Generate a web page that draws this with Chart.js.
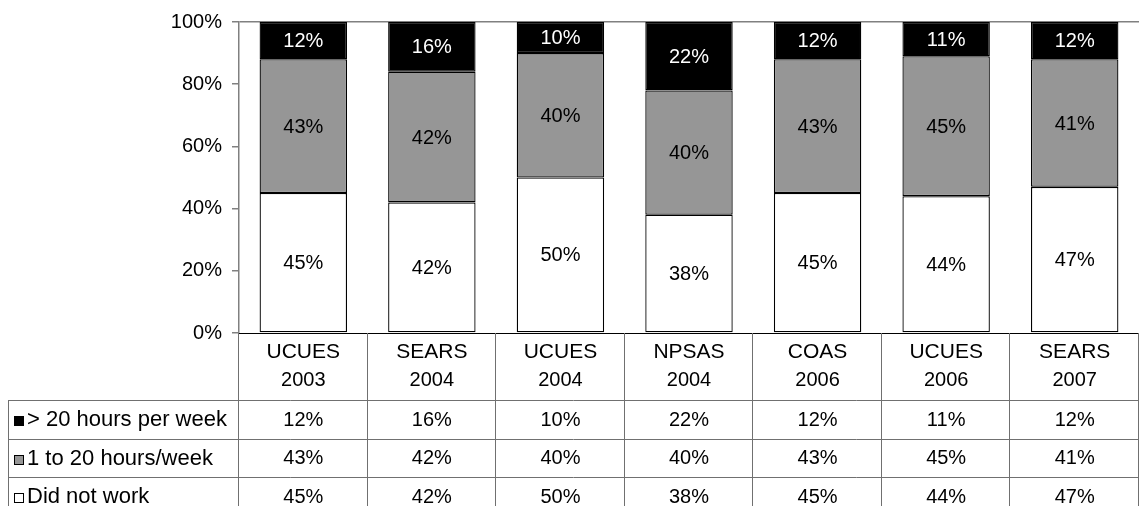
<!DOCTYPE html>
<html>
<head>
<meta charset="utf-8">
<script src="https://cdn.jsdelivr.net/npm/chart.js@4/dist/chart.umd.min.js"></script>
<style>
  body { margin: 0; background: #fff; }
  #wrap { width: 1139px; height: 506px; }
</style>
</head>
<body>
<div id="wrap"><canvas id="chart"></canvas></div>
<script>
// survey names and years (shown on two lines under each bar)
const surveys = ['UCUES', 'SEARS', 'UCUES', 'NPSAS', 'COAS', 'UCUES', 'SEARS'];
const years = ['2003', '2004', '2004', '2004', '2006', '2006', '2007'];

// percentages per series
const didNotWork = [45, 42, 50, 38, 45, 44, 47];
const oneTo20 = [43, 42, 40, 40, 43, 45, 41];
const over20 = [12, 16, 10, 22, 12, 11, 12];

const yTicks = [0, 20, 40, 60, 80, 100];

const FAMILY = '"Liberation Sans", Arial, sans-serif';
const FONT = '20px ' + FAMILY;
const LINE = '#707070';

// table rows, top to bottom (same order as the original data table)
const tableRows = [
  { name: '> 20 hours per week', values: over20, color: '#000000' },
  { name: '1 to 20 hours/week', values: oneTo20, color: '#969696' },
  { name: 'Did not work', values: didNotWork, color: '#ffffff' },
];

// labels in the middle of each bar segment
const segmentLabels = {
  id: 'segmentLabels',
  afterDatasetsDraw(chart) {
    const ctx = chart.ctx;
    ctx.save();
    ctx.font = FONT;
    ctx.textAlign = 'center';
    ctx.textBaseline = 'middle';
    chart.data.datasets.forEach((ds, di) => {
      chart.getDatasetMeta(di).data.forEach((bar, i) => {
        const mid = (bar.y + bar.base) / 2;
        ctx.fillStyle = ds.backgroundColor === '#000000' ? '#ffffff' : '#000000';
        ctx.fillText(ds.data[i] + '%', bar.x, mid + 1);
      });
    });
    ctx.restore();
  }
};

// data table under the plot
const dataTable = {
  id: 'dataTable',
  afterDraw(chart) {
    const ctx = chart.ctx;
    const area = chart.chartArea;
    const x = chart.scales.x;
    const n = surveys.length;
    const step = (area.right - area.left) / n;
    const headTop = area.bottom;
    const headBottom = 400;
    const rowH = 38.5;
    const tableLeft = 8;
    const bottom = chart.height;

    ctx.save();
    // x axis line
    ctx.strokeStyle = '#000';
    ctx.lineWidth = 1;
    ctx.beginPath();
    ctx.moveTo(area.left, headTop + 0.5);
    ctx.lineTo(area.right, headTop + 0.5);
    ctx.stroke();

    ctx.strokeStyle = LINE;
    ctx.beginPath();
    // column separators
    for (let i = 0; i <= n; i++) {
      const cx = Math.round(area.left + i * step) - 0.5;
      ctx.moveTo(cx, headTop);
      ctx.lineTo(cx, bottom);
    }
    // left border of legend column
    ctx.moveTo(tableLeft + 0.5, headBottom);
    ctx.lineTo(tableLeft + 0.5, bottom);
    // row lines
    for (let r = 0; r < tableRows.length; r++) {
      const ry = Math.round(headBottom + r * rowH) + 0.5;
      ctx.moveTo(tableLeft, ry);
      ctx.lineTo(area.right, ry);
    }
    ctx.stroke();

    ctx.fillStyle = '#000';
    ctx.textBaseline = 'middle';
    ctx.textAlign = 'center';
    // header
    for (let i = 0; i < n; i++) {
      const cx = x.getPixelForValue(i);
      ctx.font = '21px ' + FAMILY;
      ctx.fillText(surveys[i], cx, 352);
      ctx.font = FONT;
      ctx.fillText(years[i], cx, 380);
    }
    // rows
    tableRows.forEach((row, r) => {
      const cy = headBottom + r * rowH + rowH / 2 + 1;
      ctx.textAlign = 'center';
      ctx.font = FONT;
      row.values.forEach((v, i) => {
        ctx.fillText(v + '%', x.getPixelForValue(i), cy);
      });
      // legend key
      ctx.fillStyle = row.color;
      ctx.fillRect(14, Math.round(cy - 4), 9, 9);
      ctx.strokeStyle = '#000';
      ctx.strokeRect(14.5, Math.round(cy - 4) + 0.5, 9, 9);
      ctx.fillStyle = '#000';
      ctx.textAlign = 'left';
      ctx.font = '22px ' + FAMILY;
      ctx.fillText(row.name, 27, cy);
    });
    ctx.restore();
  }
};

Chart.defaults.font.family = FAMILY;
Chart.defaults.font.size = 20;
Chart.defaults.color = '#000';

const barStyle = { borderColor: '#000', borderWidth: 1.3, borderSkipped: false, barPercentage: 0.68, categoryPercentage: 1 };

new Chart(document.getElementById('chart'), {
  type: 'bar',
  data: {
    labels: surveys.map((s, i) => s + ' ' + years[i]),
    datasets: [
      { label: 'Did not work', data: didNotWork, backgroundColor: '#ffffff', ...barStyle },
      { label: '1 to 20 hours/week', data: oneTo20, backgroundColor: '#969696', ...barStyle },
      { label: '> 20 hours per week', data: over20, backgroundColor: '#000000', ...barStyle },
    ],
  },
  options: {
    responsive: true,
    maintainAspectRatio: false,
    animation: false,
    layout: { padding: { top: 22, bottom: 173, left: 0, right: 0 } },
    scales: {
      x: { stacked: true, display: false },
      y: {
        stacked: true,
        min: 0,
        max: 100,
        afterBuildTicks: (scale) => { scale.ticks = yTicks.map(v => ({ value: v })); },
        afterFit: (scale) => { scale.width = 239; },
        ticks: { callback: (v) => v + '%', padding: 10, font: { size: 20 } },
        grid: {
          drawOnChartArea: true,
          color: (c) => (c.tick && c.tick.value === 100 ? '#808080' : 'transparent'),
          tickColor: '#808080',
          tickLength: 7,
          lineWidth: 1.5,
        },
        border: { color: '#808080', width: 1.5 },
      },
    },
    plugins: {
      legend: { display: false },
      tooltip: { enabled: false },
    },
  },
  plugins: [segmentLabels, dataTable],
});
</script>
</body>
</html>
